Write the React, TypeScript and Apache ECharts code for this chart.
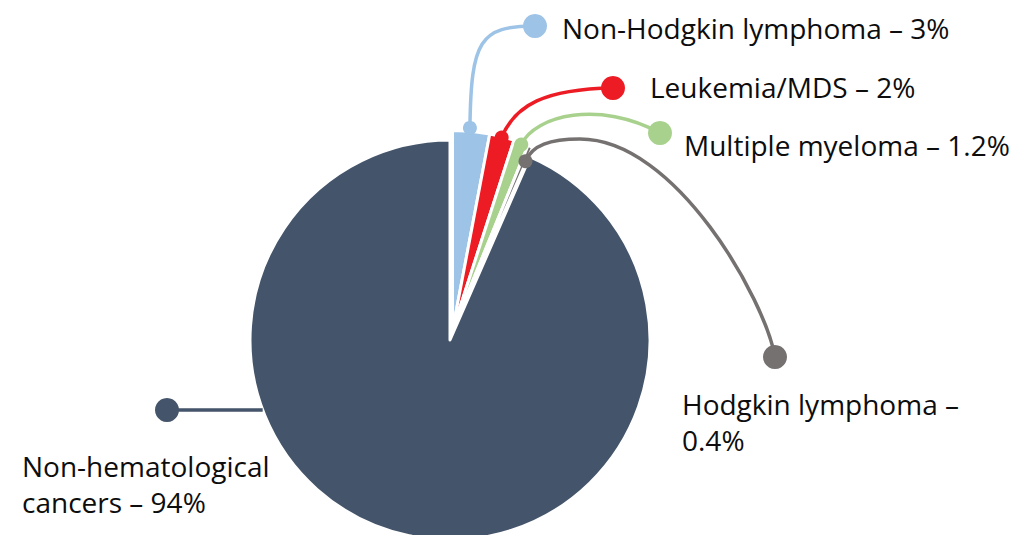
import React, { useEffect, useRef } from "react";
import * as echarts from "echarts";

// ---- data ----
const categories = [
  "Non-Hodgkin lymphoma",
  "Leukemia/MDS",
  "Multiple myeloma",
  "Hodgkin lymphoma",
  "Non-hematological cancers",
];
const values = [3, 2, 1.2, 0.4, 94];
const labelTexts = [
  "Non-Hodgkin lymphoma – 3%",
  "Leukemia/MDS – 2%",
  "Multiple myeloma – 1.2%",
  "Hodgkin lymphoma –\n0.4%",
  "Non-hematological\ncancers – 94%",
];
const colors = ["#9DC3E6", "#ED1C24", "#A9D18E", "#767171", "#44546A"];
const exploded = [true, true, true, true, false];

// ---- layout ----
const CX = 450;
const CY = 340;
const R = 200;
const EXPLODE_DX = 2.5;
const EXPLODE_DY = -9.5;
// label anchor (x, y, verticalAlign)
const labelPos: [number, number, string][] = [
  [562, 28, "middle"],
  [650, 87, "middle"],
  [684, 145, "middle"],
  [682, 386, "top"],
  [22, 448, "top"],
];
// leader lines: start radius on the slice (at its mid angle), then cubic segments [cp1, cp2, end]
const leaderStartR = [213, 209, 208, 194, 200];
const leaderSegments: [number, number][][][] = [
  [[[471, 40], [480, 26], [535, 26]]],
  [[[515, 105], [545, 89], [613, 88]]],
  [[[535, 115], [600, 100], [660, 133]]],
  [
    [[532, 145], [550, 139], [580, 139]],
    [[676, 139], [765, 300], [775, 357]],
  ],
  [[[230, 410], [200, 410], [167, 410]]],
];
const bigSliceLeaderAngle = 249.5;

const FONT = "'Open Sans', 'Noto Sans', sans-serif";

export default function App() {
  const ref = useRef<HTMLDivElement>(null);
  useEffect(() => {
    if (!ref.current) return;
    const chart = echarts.init(ref.current, undefined, { renderer: "svg" });
    const total = values.reduce((a, b) => a + b, 0);
    const polar = (deg: number, r: number): [number, number] => {
      const a = (deg * Math.PI) / 180;
      return [CX + r * Math.sin(a), CY - r * Math.cos(a)];
    };
    let acc = 0;
    const mids = values.map((v) => {
      const m = ((acc + v / 2) / total) * 360;
      acc += v;
      return m;
    });
    const starts = values.map((_, i) =>
      exploded[i] ? polar(mids[i], leaderStartR[i]) : polar(bigSliceLeaderAngle, leaderStartR[i])
    );

    const graphics: any[] = [];
    values.forEach((_, i) => {
      let p0 = starts[i];
      leaderSegments[i].forEach((seg) => {
        graphics.push({
          type: "bezierCurve",
          shape: {
            x1: p0[0], y1: p0[1],
            cpx1: seg[0][0], cpy1: seg[0][1],
            cpx2: seg[1][0], cpy2: seg[1][1],
            x2: seg[2][0], y2: seg[2][1],
          },
          style: { stroke: colors[i], lineWidth: 3.5, fill: "none" },
          z: 90,
          silent: true,
        });
        p0 = seg[2];
      });
      graphics.push({
        type: "circle",
        shape: { cx: p0[0], cy: p0[1], r: 12 },
        style: { fill: colors[i] },
        z: 100,
        silent: true,
      });
      if (exploded[i]) {
        graphics.push({
          type: "circle",
          shape: { cx: starts[i][0], cy: starts[i][1], r: 7 },
          style: { fill: colors[i] },
          z: 100,
          silent: true,
        });
      }
    });

    const makeSeries = (showExploded: boolean, center: [number, number]) => ({
      type: "pie",
      center,
      radius: [0, R],
      startAngle: 90,
      clockwise: true,
      silent: true,
      avoidLabelOverlap: false,
      emphasis: { disabled: true },
      label: {
        show: true,
        position: "outside",
        fontFamily: FONT,
        fontSize: 28,
        color: "#0d0d0d",
        formatter: (p: any) => labelTexts[p.dataIndex],
      },
      labelLine: { show: false },
      labelLayout: (p: any) => {
        const [x, y, va] = labelPos[p.dataIndex];
        return { x, y, align: "left", verticalAlign: va };
      },
      data: categories.map((name, i) => {
        const visible = exploded[i] === showExploded;
        return {
          name,
          value: values[i],
          itemStyle: visible
            ? { color: colors[i], borderColor: "#ffffff", borderWidth: 3 }
            : { color: "rgba(0,0,0,0)", borderWidth: 0 },
          label: visible ? { show: true, lineHeight: 36 } : { show: false },
        };
      }),
    });

    chart.setOption({
      animation: false,
      graphic: graphics,
      series: [
        makeSeries(false, [CX, CY]),
        makeSeries(true, [CX + EXPLODE_DX, CY + EXPLODE_DY]),
      ],
    });
    return () => chart.dispose();
  }, []);
  return (
    <div
      ref={ref}
      style={{ position: "fixed", left: 0, top: 0, width: 1018, height: 535, background: "#fff" }}
    />
  );
}
